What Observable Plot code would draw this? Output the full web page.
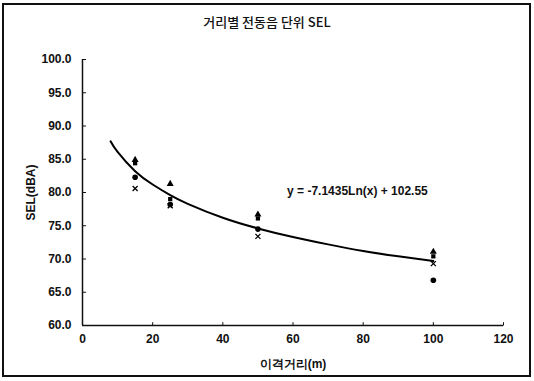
<!DOCTYPE html>
<html>
<head>
<meta charset="utf-8">
<script src="https://cdn.jsdelivr.net/npm/d3@7"></script>
<script src="https://cdn.jsdelivr.net/npm/@observablehq/plot@0.6"></script>
<style>
  html, body { margin: 0; padding: 0; background: #fff; }
  #wrap { position: relative; width: 534px; height: 381px; overflow: hidden; }
  #frame { position: absolute; left: 2px; top: 3px; width: 529px; height: 374px; border: 2px solid #111; box-sizing: border-box; pointer-events: none; }
  #title { position: absolute; left: 0; top: 12px; width: 534px; text-align: center;
           font-family: "Noto Sans CJK KR", "Liberation Sans", sans-serif; font-size: 13px; font-weight: 500; color: #111; }
  #chart { position: absolute; left: 0; top: 0; }
</style>
</head>
<body>
<div id="wrap">
  <div id="chart"></div>
  <div id="title">거리별 전동음 단위 SEL</div>
  <div id="frame"></div>
</div>
<script>
// distances (m)
const distances = [15, 25, 50, 100];
const seriesA = [84.9, 81.3, 76.7, 71.1];
const seriesB = [84.4, 79.0, 76.1, 70.4];
const seriesC = [82.3, 78.2, 74.5, 66.8];
const seriesD = [80.6, 78.0, 73.4, 69.3];
// trendline
const trendX = [8, 10, 15, 20, 25, 30, 40, 50, 60, 70, 80, 90, 100];
const trendY = [87.7, 86.1, 83.2, 81.2, 79.6, 78.3, 76.2, 74.6, 73.3, 72.2, 71.2, 70.4, 69.7];
// annotation
const equationText = ["y = -7.1435Ln(x) + 102.55"];
const equationPos = [{x: 58.3, y: 80.2}];
const xTicks = [0, 20, 40, 60, 80, 100, 120];
const yTicks = [60, 65, 70, 75, 80, 85, 90, 95, 100];

const mk = (arr) => distances.map((d, i) => ({x: d, y: arr[i]}));
const trend = trendX.map((x, i) => ({x, y: trendY[i]}));
const eq = equationPos.map((p, i) => ({...p, label: equationText[i]}));

const font = "Liberation Sans, Arial, sans-serif";

const chart = Plot.plot({
  width: 534,
  height: 381,
  marginLeft: 82,
  marginRight: 31,
  marginTop: 59,
  marginBottom: 56,
  style: {fontFamily: font, fontSize: "12px", color: "#111", background: "transparent"},
  x: {domain: [0, 120], ticks: xTicks},
  y: {domain: [60, 100], ticks: yTicks},
  marks: [
    Plot.axisX({ticks: xTicks, tickSize: 0, tickPadding: 9, fontSize: 12, fontWeight: "bold",
                label: "이격거리(m)", labelAnchor: "center", labelArrow: "none", labelOffset: 42}),
    Plot.axisY({ticks: yTicks, tickSize: 0, tickPadding: 11, tickFormat: d3.format(".1f"), fontSize: 12, fontWeight: "bold",
                label: "SEL(dBA)", labelAnchor: "center", labelArrow: "none", labelOffset: 56}),
    // short inward tick marks
    Plot.link(xTicks, {x1: d => d, x2: d => d, y1: () => 60, y2: () => 60.5, stroke: "#111"}),
    Plot.link(yTicks, {x1: () => 0, x2: () => 1, y1: d => d, y2: d => d, stroke: "#111"}),
    Plot.ruleY([60], {stroke: "#111", strokeWidth: 1.5}),
    Plot.ruleX([0], {stroke: "#111", strokeWidth: 1.5}),
    Plot.line(trend, {x: "x", y: "y", curve: "natural", stroke: "#000", strokeWidth: 2}),
    Plot.dot(mk(seriesA), {x: "x", y: "y", symbol: "triangle", r: 2.6, fill: "#000"}),
    Plot.dot(mk(seriesB), {x: "x", y: "y", symbol: "square", r: 2.4, fill: "#000"}),
    Plot.dot(mk(seriesC), {x: "x", y: "y", symbol: "circle", r: 2.8, fill: "#000"}),
    Plot.dot(mk(seriesD), {x: "x", y: "y", symbol: "times", r: 2.4, stroke: "#000", strokeWidth: 1.3}),
    Plot.text(eq, {x: "x", y: "y", text: "label", textAnchor: "start", fontSize: 12, fontWeight: "bold", fill: "#111"})
  ]
});

document.getElementById("chart").appendChild(chart);
// make the axis titles bold-ish like the scan
chart.querySelectorAll("[aria-label$='label'] text, g[aria-label='x-axis label'] text, g[aria-label='y-axis label'] text")
  .forEach(t => t.setAttribute("font-weight", "bold"));
</script>
</body>
</html>
